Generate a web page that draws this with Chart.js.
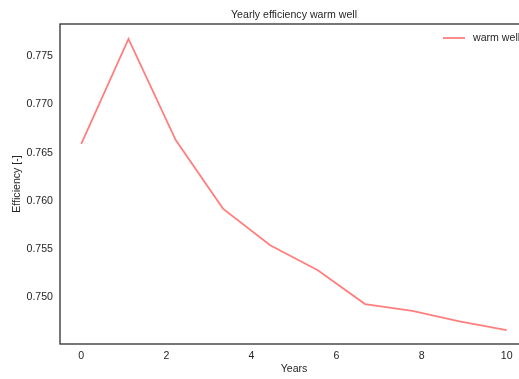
<!DOCTYPE html>
<html>
<head>
<meta charset="utf-8">
<title>Yearly efficiency warm well</title>
<script src="https://cdn.jsdelivr.net/npm/chart.js@4/dist/chart.umd.min.js"></script>
<style>
  body { margin: 0; background: #fff; }
  #wrap { width: 519px; height: 379px; overflow: hidden; }
</style>
</head>
<body>
<div id="wrap"><canvas id="effChart" width="588" height="379"></canvas></div>
<script>
const years = [0, 1.11, 2.22, 3.33, 4.44, 5.56, 6.67, 7.78, 8.89, 10];
const efficiency = [0.7659, 0.7768, 0.7663, 0.7592, 0.7554, 0.7528, 0.7493, 0.7486, 0.7475, 0.7466];
const seriesName = 'warm well';
const chartTitle = 'Yearly efficiency warm well';

const lineColor = '#ff7f7f';
const textColor = '#262626';
const fontFamily = 'Liberation Sans, Arial, sans-serif';
const font = { family: fontFamily, size: 10.6 };

// frame, title and in-axes legend, drawn the matplotlib way
const decor = {
  id: 'decor',
  afterDraw(chart) {
    const { ctx, chartArea: a } = chart;
    ctx.save();
    ctx.strokeStyle = textColor;
    ctx.lineWidth = 1.25;
    ctx.strokeRect(a.left, a.top, a.right - a.left, a.bottom - a.top);

    ctx.fillStyle = textColor;
    ctx.font = `${font.size}px ${fontFamily}`;
    ctx.textAlign = 'center';
    ctx.textBaseline = 'middle';
    ctx.fillText(chartTitle, (a.left + a.right) / 2, 15);

    // legend: line sample + label, upper right
    const ly = a.top + 14;
    const lx = a.right - 85;
    ctx.strokeStyle = lineColor;
    ctx.lineWidth = 1.8;
    ctx.beginPath();
    ctx.moveTo(lx, ly);
    ctx.lineTo(lx + 22, ly);
    ctx.stroke();
    ctx.textAlign = 'left';
    ctx.fillText(chart.data.datasets[0].label, lx + 30, ly);
    ctx.restore();
  }
};

const ctx = document.getElementById('effChart').getContext('2d');
new Chart(ctx, {
  type: 'line',
  data: {
    datasets: [{
      label: seriesName,
      data: years.map((x, i) => ({ x, y: efficiency[i] })),
      borderColor: lineColor,
      backgroundColor: lineColor,
      borderWidth: 1.8,
      pointRadius: 0,
      tension: 0
    }]
  },
  options: {
    responsive: false,
    animation: false,
    layout: { padding: { left: 0, right: 60, top: 24, bottom: 0 } },
    plugins: {
      legend: { display: false },
      tooltip: { enabled: false }
    },
    scales: {
      x: {
        type: 'linear',
        min: -0.5,
        max: 10.5,
        grid: { display: false, drawTicks: false },
        border: { display: false },
        ticks: { stepSize: 2, includeBounds: false, color: textColor, font, padding: 6 },
        title: { display: true, text: 'Years', color: textColor, font, padding: { top: 4, bottom: 4 } },
        afterFit: s => { s.height = 35; }
      },
      y: {
        min: 0.74516,
        max: 0.77834,
        grid: { display: false, drawTicks: false },
        border: { display: false },
        ticks: {
          stepSize: 0.005,
          includeBounds: false,
          color: textColor,
          font,
          padding: 7,
          callback: v => v.toFixed(3)
        },
        title: { display: true, text: 'Efficiency [-]', color: textColor, font, padding: { top: 11, bottom: 11 } },
        afterFit: s => { s.width = 60; }
      }
    }
  },
  plugins: [decor]
});
</script>
</body>
</html>
